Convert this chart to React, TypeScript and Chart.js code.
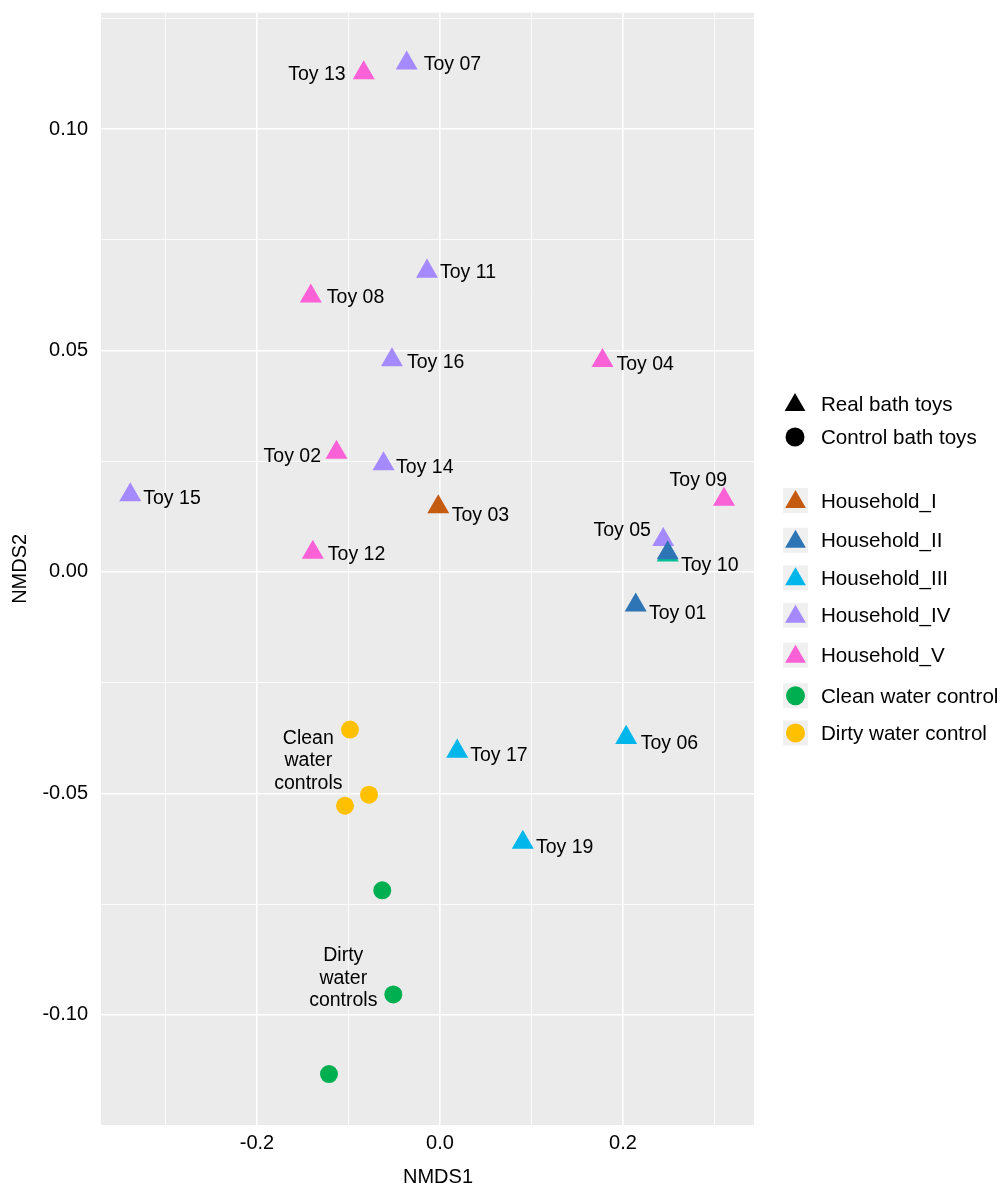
import React, { useEffect, useRef } from "react";
import { Chart, registerables } from "chart.js";

Chart.register(...registerables);

// ---------- data ----------
const householdNames = ["Household_I", "Household_II", "Household_III", "Household_IV", "Household_V"];
const householdColors = ["#C55A11", "#2E75B6", "#00B6EB", "#A58AFF", "#FB61D7"];

const h1Toys = ["Toy 03"];
const h1X = [-0.0019];
const h1Y = [0.0147];

const h2Toys = ["Toy 10", "Toy 01"];
const h2X = [0.2489, 0.2139];
const h2Y = [0.0043, -0.0075];

const h3Toys = ["Toy 17", "Toy 06", "Toy 19"];
const h3X = [0.0188, 0.2035, 0.0905];
const h3Y = [-0.0405, -0.0374, -0.0611];

const h4Toys = ["Toy 07", "Toy 11", "Toy 16", "Toy 14", "Toy 15", "Toy 05"];
const h4X = [-0.0364, -0.0142, -0.0525, -0.0617, -0.3385, 0.244];
const h4Y = [0.1149, 0.0679, 0.0479, 0.0244, 0.0174, 0.0073];

const h5Toys = ["Toy 13", "Toy 08", "Toy 04", "Toy 02", "Toy 12", "Toy 09"];
const h5X = [-0.0834, -0.1412, 0.1776, -0.1131, -0.139, 0.3104];
const h5Y = [0.1127, 0.0623, 0.0477, 0.027, 0.0044, 0.0164];

const controlNames = ["Clean water control", "Dirty water control"];
const controlColors = ["#00B050", "#FFC000"];
const cleanX = [-0.0631, -0.051, -0.1213];
const cleanY = [-0.0719, -0.0954, -0.1134];
const dirtyX = [-0.0984, -0.0776, -0.1038];
const dirtyY = [-0.0356, -0.0503, -0.0528];

// partially hidden point beneath Toy 10
const hiddenX = [0.2489];
const hiddenY = [0.0038];
const hiddenColor = "#00C094";

const shapeLegendNames = ["Real bath toys", "Control bath toys"];

const annotationLines = [["Clean", "water", "controls"], ["Dirty", "water", "controls"]];
const annotationX = [-0.1439, -0.1057];
const annotationY = [-0.0427, -0.0918];

const xTickValues = [-0.3, -0.2, -0.1, 0, 0.1, 0.2, 0.3];
const xTickLabels = ["", "-0.2", "", "0.0", "", "0.2", ""];
const yTickValues = [0.125, 0.1, 0.075, 0.05, 0.025, 0, -0.025, -0.05, -0.075, -0.1];
const yTickLabels = ["", "0.10", "", "0.05", "", "0.00", "", "-0.05", "", "-0.10"];

const xRange = [-0.3705, 0.3432];
const yRange = [-0.1249, 0.1263];

// ---------- label placement (pixel offsets from each point) ----------
const labelOffsets: Record<string, [number, number, CanvasTextAlign]> = {
  "Toy 13": [-18, 2, "right"],
  "Toy 07": [17, 1.5, "left"],
  "Toy 11": [13, 1.5, "left"],
  "Toy 08": [16, 1.5, "left"],
  "Toy 16": [15, 2.5, "left"],
  "Toy 04": [14, 4, "left"],
  "Toy 02": [-15.5, 4, "right"],
  "Toy 14": [12.5, 4, "left"],
  "Toy 15": [13, 3.4, "left"],
  "Toy 03": [13.4, 9, "left"],
  "Toy 12": [15, 2.3, "left"],
  "Toy 17": [13, 4.5, "left"],
  "Toy 09": [-25.7, -18.7, "center"],
  "Toy 05": [-12.3, -9.5, "right"],
  "Toy 10": [13.3, 12.8, "left"],
  "Toy 01": [13.3, 8.7, "left"],
  "Toy 06": [14.5, 6.2, "left"],
  "Toy 19": [13.2, 5, "left"],
};

const FONT = "'Liberation Sans', Arial, Helvetica, sans-serif";
const W = 1006;
const H = 1188;
const AREA = { left: 101, right: 754, top: 10, bottom: 1125 };

const LEGEND = {
  keyX: 783,
  keySize: 25,
  textX: 821,
  shapeY: [404, 437],
  itemY: [500.5, 540.3, 577.8, 615.3, 655.2, 695.7, 733],
};

function pts(xs: number[], ys: number[]) {
  return xs.map((x, i) => ({ x, y: ys[i] }));
}

function drawTri(ctx: CanvasRenderingContext2D, x: number, y: number, r: number, color: string) {
  ctx.beginPath();
  ctx.moveTo(x, y - r);
  ctx.lineTo(x + r * Math.sin((2 * Math.PI) / 3), y - r * Math.cos((2 * Math.PI) / 3));
  ctx.lineTo(x + r * Math.sin((4 * Math.PI) / 3), y - r * Math.cos((4 * Math.PI) / 3));
  ctx.closePath();
  ctx.fillStyle = color;
  ctx.fill();
}

function drawDot(ctx: CanvasRenderingContext2D, x: number, y: number, r: number, color: string) {
  ctx.beginPath();
  ctx.arc(x, y, r, 0, Math.PI * 2);
  ctx.fillStyle = color;
  ctx.fill();
}

export default function App() {
  const ref = useRef<HTMLCanvasElement | null>(null);

  useEffect(() => {
    document.body.style.margin = "0";
    const canvas = ref.current;
    if (!canvas) return;

    const toyGroups = [
      { toys: h1Toys, x: h1X, y: h1Y },
      { toys: h2Toys, x: h2X, y: h2Y },
      { toys: h3Toys, x: h3X, y: h3Y },
      { toys: h4Toys, x: h4X, y: h4Y },
      { toys: h5Toys, x: h5X, y: h5Y },
    ];
    // drawing order: lower "order" is drawn on top
    const orders = [1, 0, 1, 2, 1];

    const datasets: any[] = toyGroups.map((g, i) => ({
      label: householdNames[i],
      data: pts(g.x, g.y),
      toyLabels: g.toys,
      pointStyle: "triangle",
      pointRadius: 12.7,
      pointHoverRadius: 12.7,
      backgroundColor: householdColors[i],
      borderWidth: 0,
      pointBorderWidth: 0,
      order: orders[i],
    }));
    datasets.push({
      label: "hidden",
      data: pts(hiddenX, hiddenY),
      pointStyle: "triangle",
      pointRadius: 12.7,
      backgroundColor: hiddenColor,
      borderWidth: 0,
      pointBorderWidth: 0,
      order: 3,
    });
    datasets.push({
      label: controlNames[0],
      data: pts(cleanX, cleanY),
      pointStyle: "circle",
      pointRadius: 9,
      backgroundColor: controlColors[0],
      borderWidth: 0,
      pointBorderWidth: 0,
      order: 1,
    });
    datasets.push({
      label: controlNames[1],
      data: pts(dirtyX, dirtyY),
      pointStyle: "circle",
      pointRadius: 9,
      backgroundColor: controlColors[1],
      borderWidth: 0,
      pointBorderWidth: 0,
      order: 1,
    });

    const decor = {
      id: "decor",
      beforeDraw(chart: any) {
        const { ctx, chartArea } = chart;
        ctx.save();
        ctx.fillStyle = "#FFFFFF";
        ctx.fillRect(0, 0, W, H);
        ctx.fillStyle = "#EBEBEB";
        ctx.fillRect(chartArea.left, chartArea.top, chartArea.right - chartArea.left, chartArea.bottom - chartArea.top);
        ctx.restore();
      },
      afterDatasetsDraw(chart: any) {
        const { ctx } = chart;
        ctx.save();
        ctx.fillStyle = "#000";
        ctx.font = `19.5px ${FONT}`;
        ctx.textBaseline = "middle";
        chart.data.datasets.forEach((ds: any, di: number) => {
          if (!ds.toyLabels) return;
          const meta = chart.getDatasetMeta(di);
          ds.toyLabels.forEach((name: string, i: number) => {
            const el = meta.data[i];
            const off = labelOffsets[name] || [12, 0, "left"];
            ctx.textAlign = off[2];
            ctx.fillText(name, el.x + off[0], el.y + off[1]);
          });
        });
        // annotations
        const xs = chart.scales.x;
        const ys = chart.scales.y;
        ctx.textAlign = "center";
        annotationLines.forEach((lines, k) => {
          const cx = xs.getPixelForValue(annotationX[k]);
          const cy = ys.getPixelForValue(annotationY[k]);
          const lh = 22.5;
          lines.forEach((t, j) => {
            ctx.fillText(t, cx, cy + (j - (lines.length - 1) / 2) * lh);
          });
        });
        ctx.restore();
      },
      afterDraw(chart: any) {
        const { ctx, chartArea } = chart;
        ctx.save();
        ctx.fillStyle = "#000";
        ctx.font = `20px ${FONT}`;
        ctx.textAlign = "center";
        ctx.textBaseline = "middle";
        ctx.fillText("NMDS1", 438, 1177);
        ctx.save();
        ctx.translate(20, (chartArea.top + chartArea.bottom) / 2);
        ctx.rotate(-Math.PI / 2);
        ctx.fillText("NMDS2", 0, 0);
        ctx.restore();

        // legend: shapes
        ctx.font = `20.6px ${FONT}`;
        const kc = LEGEND.keyX + LEGEND.keySize / 2;
        ctx.textAlign = "left";
        drawTri(ctx, kc - 0.5, LEGEND.shapeY[0] + 1, 12, "#000");
        drawDot(ctx, kc - 0.5, LEGEND.shapeY[1], 9.5, "#000");
        ctx.fillStyle = "#000";
        ctx.fillText(shapeLegendNames[0], LEGEND.textX, LEGEND.shapeY[0] + 1);
        ctx.fillText(shapeLegendNames[1], LEGEND.textX, LEGEND.shapeY[1] + 1);

        // legend: colours
        const names = [...householdNames, ...controlNames];
        const cols = [...householdColors, ...controlColors];
        names.forEach((n, i) => {
          const cy = LEGEND.itemY[i];
          ctx.fillStyle = "#F0F0F0";
          ctx.fillRect(LEGEND.keyX, cy - LEGEND.keySize / 2, LEGEND.keySize, LEGEND.keySize);
          if (i < householdNames.length) drawTri(ctx, kc, cy + 1.5, 12, cols[i]);
          else drawDot(ctx, kc, cy, 9.5, cols[i]);
          ctx.fillStyle = "#000";
          ctx.fillText(n, LEGEND.textX, cy + 1.5);
        });
        ctx.restore();
      },
    };

    const isMajorX = (v: number) => xTickLabels[xTickValues.findIndex((t) => Math.abs(t - v) < 1e-9)] !== "";
    const isMajorY = (v: number) => yTickLabels[yTickValues.findIndex((t) => Math.abs(t - v) < 1e-9)] !== "";

    const chart = new Chart(canvas, {
      type: "scatter",
      data: { datasets },
      plugins: [decor],
      options: {
        responsive: false,
        animation: false,
        events: [],
        layout: { padding: { left: 0, top: AREA.top, right: W - AREA.right, bottom: 0 } },
        plugins: { legend: { display: false }, tooltip: { enabled: false } },
        scales: {
          x: {
            type: "linear",
            min: xRange[0],
            max: xRange[1],
            afterBuildTicks: (s: any) => {
              s.ticks = xTickValues.map((v) => ({ value: v }));
            },
            afterFit: (s: any) => {
              s.height = H - AREA.bottom;
              s.paddingLeft = 0;
              s.paddingRight = 0;
            },
            border: { display: false },
            grid: {
              color: "#FFFFFF",
              drawTicks: false,
              lineWidth: (c: any) => (c.tick && isMajorX(c.tick.value) ? 1.6 : 0.8),
            },
            ticks: {
              padding: 6,
              maxRotation: 0,
              autoSkip: false,
              color: "#000",
              font: { size: 20, family: FONT },
              callback: (v: any) => {
                const i = xTickValues.findIndex((t) => Math.abs(t - Number(v)) < 1e-9);
                return i >= 0 ? xTickLabels[i] : "";
              },
            },
          },
          y: {
            type: "linear",
            min: yRange[0],
            max: yRange[1],
            afterBuildTicks: (s: any) => {
              s.ticks = yTickValues.map((v) => ({ value: v }));
            },
            afterFit: (s: any) => {
              s.width = AREA.left;
              s.paddingTop = 0;
              s.paddingBottom = 0;
            },
            border: { display: false },
            grid: {
              color: "#FFFFFF",
              drawTicks: false,
              lineWidth: (c: any) => (c.tick && isMajorY(c.tick.value) ? 1.6 : 0.8),
            },
            ticks: {
              padding: 13,
              autoSkip: false,
              color: "#000",
              font: { size: 20, family: FONT },
              callback: (v: any) => {
                const i = yTickValues.findIndex((t) => Math.abs(t - Number(v)) < 1e-9);
                return i >= 0 ? yTickLabels[i] : "";
              },
            },
          },
        },
      } as any,
    });

    return () => chart.destroy();
  }, []);

  return (
    <div style={{ width: W, height: H, background: "#fff" }}>
      <canvas ref={ref} width={W} height={H} style={{ display: "block", width: W, height: H }} />
    </div>
  );
}
